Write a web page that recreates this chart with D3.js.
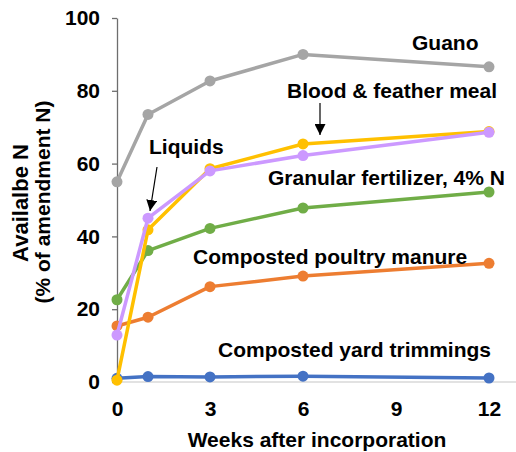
<!DOCTYPE html>
<html>
<head>
<meta charset="utf-8">
<script src="https://cdn.jsdelivr.net/npm/d3@7"></script>
<style>
  html, body { margin: 0; padding: 0; background: #fff; }
  svg { display: block; font-family: "Liberation Sans", Arial, sans-serif; font-weight: bold; }
</style>
</head>
<body>
<svg id="chart" width="516" height="452"></svg>
<script>
const weeks = [0, 1, 3, 6, 12];
const xTicks = [0, 3, 6, 9, 12];
const yTicks = [0, 20, 40, 60, 80, 100];
const seriesNames = ["Guano", "Composted yard trimmings", "Composted poultry manure", "Granular fertilizer, 4% N", "Blood & feather meal", "Liquids"];
const guano = [55.0, 73.5, 82.7, 90.0, 86.6];
const yardTrimmings = [1.0, 1.5, 1.4, 1.6, 1.1];
const poultryManure = [15.4, 17.8, 26.2, 29.1, 32.6];
const granular = [22.6, 36.1, 42.2, 47.8, 52.2];
const bloodFeather = [0.5, 41.8, 58.6, 65.4, 68.8];
const liquids = [12.9, 45.0, 58.0, 62.2, 68.6];
const seriesValues = [guano, yardTrimmings, poultryManure, granular, bloodFeather, liquids];
const seriesColors = ["#A5A5A5", "#4472C4", "#ED7D31", "#70AD47", "#FFC000", "#CC99FF"];
const xTitle = "Weeks after incorporation";
const yTitle = ["Availalbe N", "(% of amendment N)"];

const svg = d3.select("#chart");
const x = d3.scaleLinear().domain([0, 12]).range([117, 489]);
const y = d3.scaleLinear().domain([0, 100]).range([382, 18]);

// x axis baseline (light gray, extends to the right edge)
svg.append("line").attr("x1", x(0)).attr("x2", 516).attr("y1", y(0)).attr("y2", y(0))
  .attr("stroke", "#D9D9D9").attr("stroke-width", 1.5);

// x axis labels
const gx = svg.append("g").attr("transform", `translate(0,${y(0)})`)
  .call(d3.axisBottom(x).tickValues(xTicks).tickSize(0).tickPadding(19).tickFormat(d3.format("d")));
gx.select(".domain").remove();
gx.selectAll("text").attr("font-size", 21).attr("font-family", "Liberation Sans, Arial, sans-serif")
  .attr("font-weight", "bold").attr("fill", "#000");

// y axis
const gy = svg.append("g").attr("transform", `translate(${x(0)},0)`)
  .call(d3.axisLeft(y).tickValues(yTicks).tickSize(5).tickSizeOuter(0).tickPadding(12).tickFormat(d3.format("d")));
gy.select(".domain").attr("stroke", "#6E6E6E").attr("stroke-width", 1.3);
gy.selectAll(".tick line").attr("stroke", "#6E6E6E").attr("stroke-width", 1.3);
gy.selectAll("text").attr("font-size", 21).attr("font-family", "Liberation Sans, Arial, sans-serif")
  .attr("font-weight", "bold").attr("fill", "#000");

// lines and markers
const line = d3.line().x((d, i) => x(weeks[i])).y(d => y(d));
seriesValues.forEach((vals, s) => {
  const g = svg.append("g");
  g.append("path").attr("d", line(vals)).attr("fill", "none")
    .attr("stroke", seriesColors[s]).attr("stroke-width", 3.5).attr("stroke-linejoin", "round");
  g.selectAll("circle").data(vals).join("circle")
    .attr("cx", (d, i) => x(weeks[i])).attr("cy", d => y(d)).attr("r", 5.5)
    .attr("fill", seriesColors[s]);
});

// series labels
const labels = [
  { t: "Guano", x: 412, y: 50 },
  { t: "Blood & feather meal", x: 287, y: 98 },
  { t: "Granular fertilizer, 4% N", x: 268, y: 185 },
  { t: "Liquids", x: 149, y: 154 },
  { t: "Composted poultry manure", x: 193, y: 264 },
  { t: "Composted yard trimmings", x: 218, y: 357 }
];
svg.selectAll("text.lbl").data(labels).join("text").attr("class", "lbl")
  .attr("x", d => d.x).attr("y", d => d.y).attr("font-size", 21).attr("fill", "#000").text(d => d.t);

// arrows
const defs = svg.append("defs");
defs.append("marker").attr("id", "ah").attr("viewBox", "0 0 10 10").attr("refX", 10).attr("refY", 5)
  .attr("markerWidth", 11).attr("markerHeight", 11).attr("markerUnits", "userSpaceOnUse").attr("orient", "auto")
  .append("path").attr("d", "M0,0 L10,5 L0,10 Z").attr("fill", "#000");
const arrows = [
  { x1: 157, y1: 167, x2: 150, y2: 211 },
  { x1: 320, y1: 103, x2: 320, y2: 135 }
];
svg.selectAll("line.arr").data(arrows).join("line").attr("class", "arr")
  .attr("x1", d => d.x1).attr("y1", d => d.y1).attr("x2", d => d.x2).attr("y2", d => d.y2)
  .attr("stroke", "#000").attr("stroke-width", 1.2).attr("marker-end", "url(#ah)");

// axis titles
svg.append("text").attr("x", 317).attr("y", 447).attr("text-anchor", "middle")
  .attr("font-size", 21).attr("fill", "#000").text(xTitle);
svg.append("text").attr("transform", "translate(28,203) rotate(-90)").attr("text-anchor", "middle")
  .attr("font-size", 22).attr("fill", "#000").text(yTitle[0]);
svg.append("text").attr("transform", "translate(50,202) rotate(-90)").attr("text-anchor", "middle")
  .attr("font-size", 21).attr("fill", "#000").text(yTitle[1]);
</script>
</body>
</html>
